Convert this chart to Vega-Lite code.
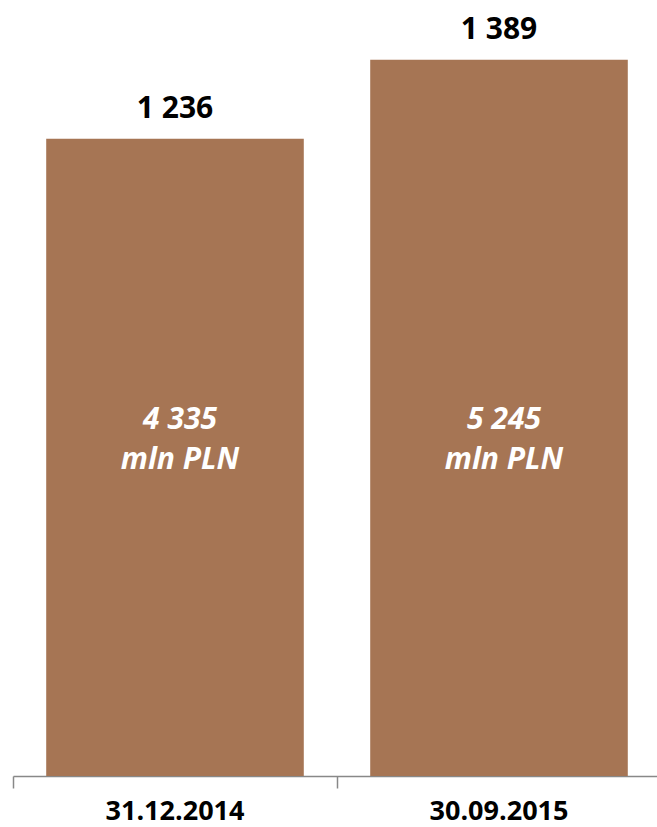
{
  "$schema": "https://vega.github.io/schema/vega-lite/v6.json",
  "autosize": "none",
  "width": 644,
  "height": 776,
  "padding": {"left": 13, "top": 0, "right": 0, "bottom": 51},
  "background": "white",
  "config": {
    "view": {"stroke": null},
    "font": "Open Sans",
    "locale": {
      "number": {"decimal": ",", "thousands": " ", "grouping": [3], "currency": ["", " zł"]}
    }
  },
  "data": {
    "values": [
      {"date": "31.12.2014", "clients": 1236, "assets": 4335},
      {"date": "30.09.2015", "clients": 1389, "assets": 5245}
    ]
  },
  "encoding": {
    "x": {
      "field": "date",
      "type": "nominal",
      "sort": null,
      "scale": {"paddingInner": 0, "paddingOuter": 0, "range": [0, 648]},
      "axis": {
        "title": null,
        "bandPosition": 0,
        "labelAngle": 0,
        "labelFont": "Open Sans",
        "labelFontSize": 27,
        "labelFontWeight": "bold",
        "labelColor": "#000000",
        "labelPadding": 10,
        "tickSize": 12,
        "tickColor": "#888888",
        "tickWidth": 1.5,
        "domainColor": "#888888",
        "domainWidth": 1.5,
        "grid": false
      }
    }
  },
  "layer": [
    {
      "mark": {"type": "bar", "width": {"band": 0.795}, "color": "#A67554"},
      "encoding": {
        "y": {
          "field": "clients",
          "type": "quantitative",
          "scale": {"domain": [0, 1505], "nice": false},
          "axis": null
        }
      }
    },
    {
      "mark": {
        "type": "text",
        "baseline": "alphabetic",
        "dy": -21,
        "fontSize": 30,
        "fontWeight": "bold",
        "color": "#000000"
      },
      "encoding": {
        "y": {"field": "clients", "type": "quantitative"},
        "text": {"field": "clients", "type": "quantitative", "format": ",d"}
      }
    },
    {
      "mark": {
        "type": "text",
        "baseline": "alphabetic",
        "dx": 5,
        "fontSize": 30,
        "fontWeight": "bold",
        "fontStyle": "italic",
        "color": "#FFFFFF"
      },
      "encoding": {
        "y": {"datum": 673, "type": "quantitative"},
        "text": {"field": "assets", "type": "quantitative", "format": ",d"}
      }
    },
    {
      "mark": {
        "type": "text",
        "baseline": "alphabetic",
        "dx": 5,
        "dy": 40,
        "fontSize": 30,
        "fontWeight": "bold",
        "fontStyle": "italic",
        "color": "#FFFFFF",
        "text": "mln PLN"
      },
      "encoding": {
        "y": {"datum": 673, "type": "quantitative"}
      }
    }
  ]
}
